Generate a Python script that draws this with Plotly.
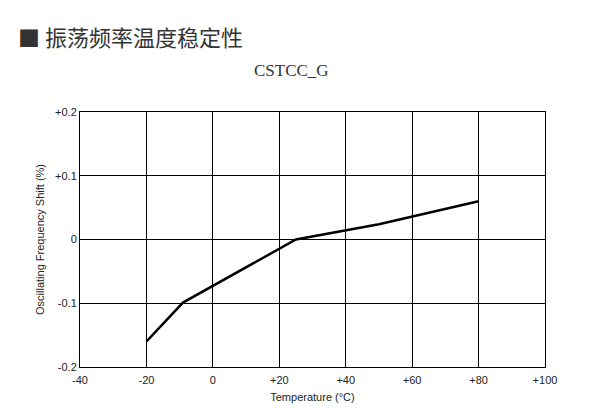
import plotly.graph_objects as go

temperature = [-20, -9, 25, 50, 80]
freq_shift = [-0.16, -0.099, 0.0, 0.024, 0.060]

x_ticks = [-40, -20, 0, 20, 40, 60, 80, 100]
x_tick_labels = ["-40", "-20", "0", "+20", "+40", "+60", "+80", "+100"]
y_ticks = [-0.2, -0.1, 0, 0.1, 0.2]
y_tick_labels = ["-0.2", "-0.1", "0", "+0.1", "+0.2"]

fig = go.Figure()
fig.add_trace(go.Scatter(x=temperature, y=freq_shift, mode="lines",
                         line=dict(color="black", width=2.5), showlegend=False))

axis_common = dict(showgrid=True, gridcolor="black", gridwidth=1, zeroline=False,
                   showline=True, linecolor="black", linewidth=1, mirror=True,
                   ticks="", tickfont=dict(family="Liberation Sans, Arial", size=11, color="#222"))

fig.update_xaxes(range=[-40, 100], tickvals=x_ticks, ticktext=x_tick_labels,
                 ticklabelstandoff=3,
                 title=dict(text="Temperature (°C)", font=dict(family="Liberation Sans, Arial", size=11, color="#222"), standoff=8),
                 **axis_common)
fig.update_yaxes(range=[-0.2, 0.2], tickvals=y_ticks, ticktext=y_tick_labels,
                 title=dict(text="Oscillating Frequency Shift (%)", font=dict(family="Liberation Sans, Arial", size=11, color="#222"), standoff=8),
                 **axis_common)

# plot area is 465 x 255 px; annotation positions are given relative to it
fig.add_annotation(text="■ 振荡频率温度稳定性", xref="paper", yref="paper",
                   x=-64 / 465, y=1 + (112 - 36) / 255, xanchor="left", yanchor="middle",
                   showarrow=False, font=dict(family="Noto Sans CJK SC", size=22, color="#333"))
fig.add_annotation(text="CSTCC_G", xref="paper", yref="paper",
                   x=(291 - 80) / 465, y=1 + (112 - 71) / 255, xanchor="center", yanchor="middle",
                   showarrow=False, font=dict(family="Liberation Serif, Times New Roman", size=17, color="#333"))

fig.update_layout(width=596, height=406, margin=dict(l=72, r=59, t=104, b=47),
                  paper_bgcolor="white", plot_bgcolor="white")

fig.write_html("out.html")
